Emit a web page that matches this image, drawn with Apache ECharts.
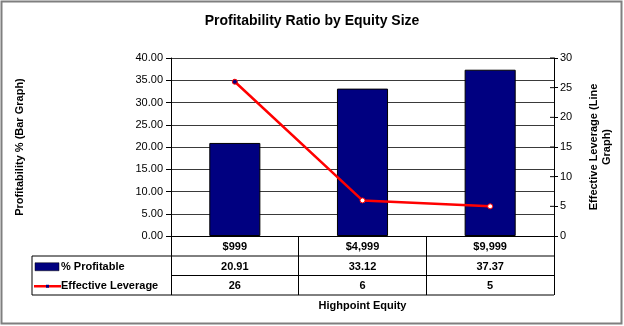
<!DOCTYPE html>
<html>
<head>
<meta charset="utf-8">
<script src="https://cdn.jsdelivr.net/npm/echarts@6/dist/echarts.min.js"></script>
<style>
  html, body { margin: 0; padding: 0; background: #fff; }
  #chart { width: 624px; height: 326px; }
</style>
</head>
<body>
<div id="chart"></div>
<script>
// Highpoint equity buckets and the two measured series
const categories = ['$999', '$4,999', '$9,999'];
const profitable = [20.91, 33.12, 37.37];
const leverage = [26, 6, 5];
const profitableLabels = ['20.91', '33.12', '37.37'];
const leverageLabels = ['26', '6', '5'];
const seriesNames = ['% Profitable', 'Effective Leverage'];

const FONT = '"Liberation Sans", Arial, sans-serif';
const NAVY = '#000080';
const RED = '#ff0000';

const chart = echarts.init(document.getElementById('chart'), null, { renderer: 'canvas' });

const option = {
  animation: false,
  backgroundColor: '#fff',
  textStyle: { fontFamily: FONT },
  title: {
    text: 'Profitability Ratio by Equity Size',
    left: 'center', top: 9,
    textStyle: { fontFamily: FONT, fontSize: 14, fontWeight: 'bold', color: '#000' }
  },
  grid: { left: 171, right: 70, top: 58, bottom: 90 },
  xAxis: {
    type: 'category',
    data: categories,
    boundaryGap: true,
    axisLine: { show: true, lineStyle: { color: '#000', width: 1 } },
    axisTick: { show: true, alignWithLabel: false, length: 59, lineStyle: { color: '#000' } },
    axisLabel: { color: '#000', fontFamily: FONT, fontSize: 11, fontWeight: 'bold', margin: 5 },
    splitLine: { show: false }
  },
  yAxis: [
    {
      type: 'value', min: 0, max: 40, interval: 5,
      name: 'Profitability % (Bar Graph)',
      nameLocation: 'middle', nameGap: 146, nameRotate: 90,
      nameTextStyle: { fontFamily: FONT, fontSize: 11, fontWeight: 'bold', color: '#000' },
      axisLine: { show: true, lineStyle: { color: '#000' } },
      axisTick: { show: true, length: 5, lineStyle: { color: '#000' } },
      axisLabel: { color: '#000', fontFamily: FONT, fontSize: 11, margin: 8,
        formatter: v => v.toFixed(2) },
      splitLine: { show: true, lineStyle: { color: '#3a3a3a', width: 1 } }
    },
    {
      type: 'value', min: 0, max: 30, interval: 5,
      name: 'Effective Leverage (Line\nGraph)',
      nameLocation: 'middle', nameGap: 33, nameRotate: 90,
      nameTextStyle: { fontFamily: FONT, fontSize: 11, fontWeight: 'bold', color: '#000',
        lineHeight: 13, align: 'center' },
      axisLine: { show: true, lineStyle: { color: '#000' } },
      axisTick: { show: true, length: 4, lineStyle: { color: '#000' } },
      axisLabel: { color: '#000', fontFamily: FONT, fontSize: 11, margin: 6 },
      splitLine: { show: false }
    }
  ],
  series: [
    {
      name: seriesNames[0],
      type: 'bar',
      yAxisIndex: 0,
      data: profitable,
      barWidth: '40%',
      itemStyle: { color: NAVY, borderColor: '#000', borderWidth: 1 },
      z: 2
    },
    {
      name: seriesNames[1],
      type: 'line',
      yAxisIndex: 1,
      data: leverage.map((v, i) => i === 0
        ? { value: v, itemStyle: { color: NAVY } }
        : v),
      symbol: 'circle',
      symbolSize: 5,
      lineStyle: { color: RED, width: 2.5 },
      itemStyle: { color: '#fff', borderColor: RED, borderWidth: 1 },
      z: 3
    }
  ]
};

chart.setOption(option);

// Data table underneath the plot, aligned to the category axis
function buildTable() {
  const x0 = chart.convertToPixel({ xAxisIndex: 0 }, 0);
  const x1 = chart.convertToPixel({ xAxisIndex: 0 }, 1);
  const step = x1 - x0;
  const left = x0 - step / 2;
  const right = left + step * categories.length;
  const base = chart.convertToPixel({ yAxisIndex: 0 }, 0);
  const rowTop = base + 20;
  const rowH = 19.5;
  const tableLeft = 32;
  const lineStyle = { stroke: '#000', lineWidth: 1 };
  const g = [];

  g.push({ type: 'line', shape: { x1: tableLeft, y1: rowTop, x2: right, y2: rowTop }, style: lineStyle });
  g.push({ type: 'line', shape: { x1: left, y1: rowTop + rowH, x2: right, y2: rowTop + rowH }, style: lineStyle });
  g.push({ type: 'line', shape: { x1: tableLeft, y1: rowTop + 2 * rowH, x2: right, y2: rowTop + 2 * rowH }, style: lineStyle });
  g.push({ type: 'line', shape: { x1: tableLeft, y1: rowTop, x2: tableLeft, y2: rowTop + 2 * rowH }, style: lineStyle });

  // right axis ticks cross the axis line
  const rightX = right;
  for (let v = 5; v <= 30; v += 5) {
    const y = chart.convertToPixel({ yAxisIndex: 1 }, v);
    g.push({ type: 'line', shape: { x1: rightX - 4, y1: y, x2: rightX, y2: y }, style: lineStyle });
  }

  const rows = [profitableLabels, leverageLabels];
  rows.forEach((vals, r) => {
    vals.forEach((v, i) => {
      g.push({
        type: 'text',
        x: chart.convertToPixel({ xAxisIndex: 0 }, i),
        y: rowTop + r * rowH + rowH / 2 + 1,
        style: { text: v, fill: '#000', font: 'bold 11px ' + FONT, align: 'center', verticalAlign: 'middle' }
      });
    });
    g.push({
      type: 'text',
      x: 61, y: rowTop + r * rowH + rowH / 2 + 1,
      style: { text: seriesNames[r], fill: '#000', font: 'bold 11px ' + FONT, align: 'left', verticalAlign: 'middle' }
    });
  });

  // legend keys inside the table
  const k1 = rowTop + rowH / 2 + 1;
  g.push({ type: 'rect', shape: { x: 35, y: k1 - 4, width: 24, height: 8 },
    style: { fill: NAVY, stroke: '#000', lineWidth: 0.5 } });
  const k2 = rowTop + rowH * 1.5 + 1;
  g.push({ type: 'line', shape: { x1: 34, y1: k2, x2: 61, y2: k2 }, style: { stroke: RED, lineWidth: 2.5 } });
  g.push({ type: 'rect', shape: { x: 46, y: k2 - 1.5, width: 3, height: 3 }, style: { fill: NAVY } });

  g.push({
    type: 'text', x: (left + right) / 2, y: rowTop + 2 * rowH + 11,
    style: { text: 'Highpoint Equity', fill: '#000', font: 'bold 11px ' + FONT, align: 'center', verticalAlign: 'middle' }
  });

  // outer frame
  g.push({ type: 'rect', shape: { x: 1.5, y: 1.5, width: 620, height: 322 },
    style: { fill: 'none', stroke: '#7f7f7f', lineWidth: 2 } });

  chart.setOption({ graphic: g });
}
buildTable();
</script>
</body>
</html>
